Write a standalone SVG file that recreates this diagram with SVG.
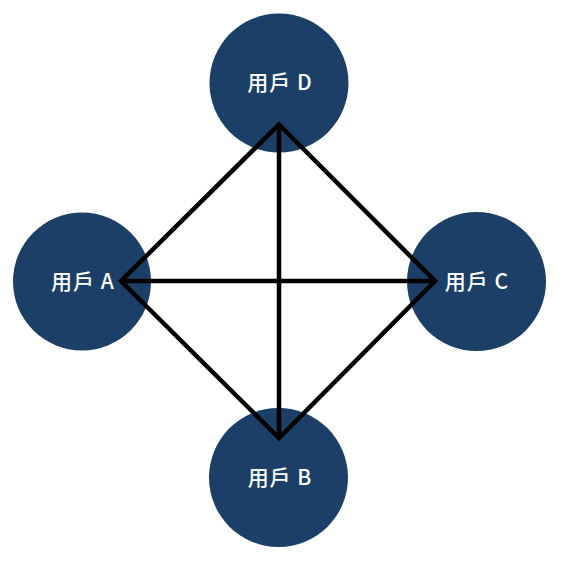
<svg xmlns="http://www.w3.org/2000/svg" width="568" height="565" viewBox="0 0 568 565">
<style>
.n{fill:#1b3f66}
.t{fill:#fff;font-family:"Noto Sans CJK TC","Noto Sans",sans-serif;font-size:21px;font-weight:500;letter-spacing:1px;text-anchor:middle;dominant-baseline:central}
.e{fill:none;stroke:#000;stroke-width:4.5;stroke-linejoin:miter}
</style>
<rect width="568" height="565" fill="#fff"/>
<g id="nodeD"><circle class="n" cx="279" cy="83" r="69.5"/><text class="t" x="280" y="81">用戶 D</text></g>
<g id="nodeA"><circle class="n" cx="82" cy="281.5" r="69"/><text class="t" x="83" y="280">用戶 A</text></g>
<g id="nodeC"><circle class="n" cx="476.5" cy="281.5" r="69.5"/><text class="t" x="477" y="280">用戶 C</text></g>
<g id="nodeB"><circle class="n" cx="278.5" cy="477.5" r="69.5"/><text class="t" x="280" y="476">用戶 B</text></g>
<g id="connectors">
<polygon class="e" points="279,124.5 435,281 279,438 121,281"/>
<line class="e" x1="121" y1="281" x2="435" y2="281"/>
<line class="e" x1="279" y1="124.5" x2="279" y2="438"/>
</g>
</svg>
